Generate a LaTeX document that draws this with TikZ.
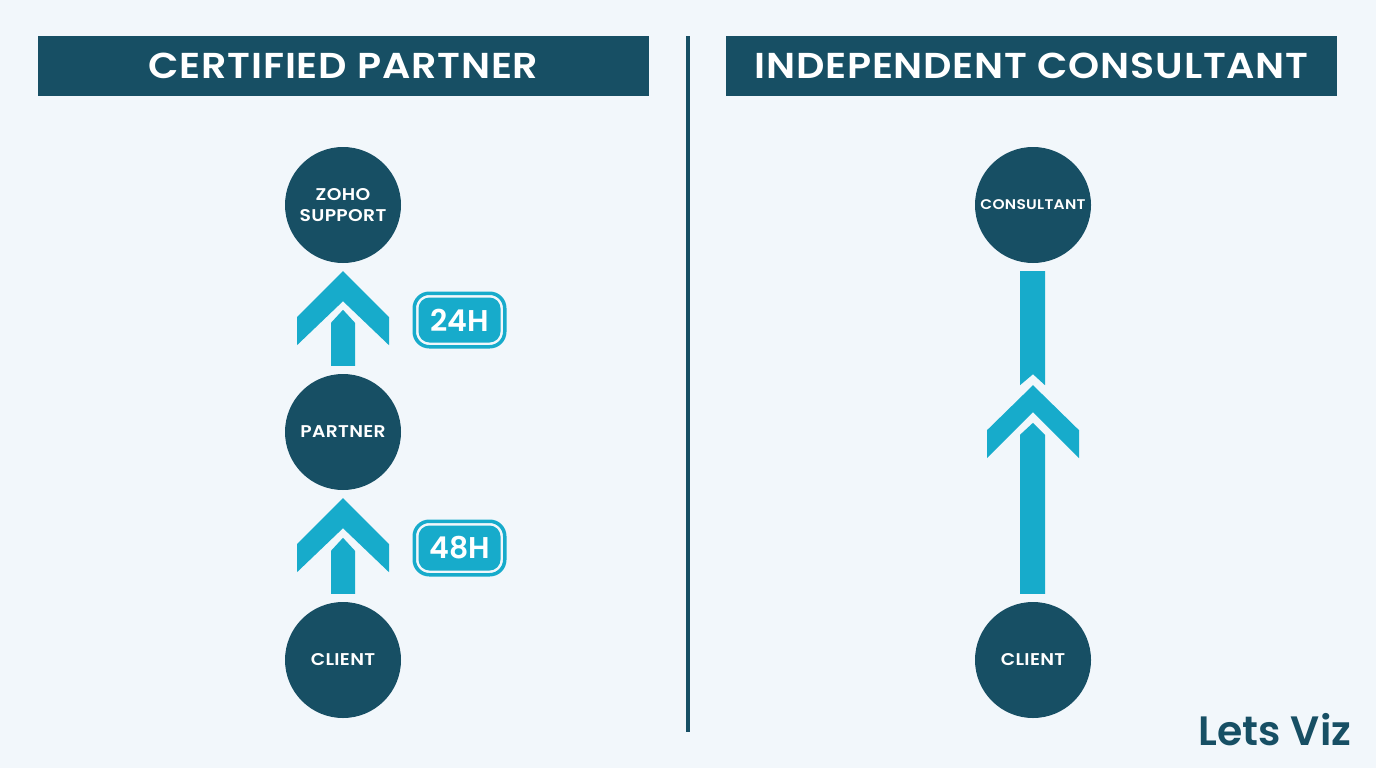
\documentclass[tikz,border=0pt]{standalone}
\usepackage{fontspec}
\setmainfont{Poppins}[BoldFont=Poppins SemiBold]
\newfontfamily\widefont[FakeStretch=1.1, LetterSpace=2.2, BoldFont=Poppins SemiBold]{Poppins}
\newfontfamily\labelfont[FakeStretch=1.1, LetterSpace=2, BoldFont=Poppins SemiBold]{Poppins}
\definecolor{darkteal}{HTML}{174F64}
\definecolor{brightcyan}{HTML}{17ABCB}
\definecolor{paleback}{HTML}{F2F7FB}
\begin{document}
\begin{tikzpicture}[x=1pt, y=-1pt, font=\bfseries,
     text=white,
     banner/.style={fill=darkteal, minimum width=611pt, minimum height=60pt, inner sep=0pt, font=\widefont\fontsize{36}{36}\bfseries},
     circ/.style={circle, fill=darkteal, minimum size=116pt, inner sep=0pt, align=center, font=\labelfont\fontsize{17}{21}\bfseries},
     ring/.style={draw=brightcyan, line width=3.5pt, fill=paleback, rounded corners=15pt, minimum width=90.5pt, minimum height=53.5pt},
     badge/.style={fill=brightcyan, rounded corners=11pt, minimum width=82pt, minimum height=45pt, inner sep=0pt, font=\fontsize{30}{30}\bfseries}]
\fill[paleback] (0,0) rectangle (1376,768);
\node[banner] (certified) at (343.5,66) {CERTIFIED PARTNER};
\node[banner] (independent) at (1031.5,66) {INDEPENDENT CONSULTANT};
\fill[darkteal] (686,36) rectangle (690,732);
\node[circ] (zoho) at (343,205) {ZOHO\\SUPPORT};
\node[circ] (partner) at (343,432) {PARTNER};
\node[circ] (client) at (343,660) {CLIENT};
\node[circ, font=\labelfont\fontsize{14}{16}\bfseries] (consultant) at (1033,205) {CONSULTANT};
\node[circ] (directclient) at (1033,660) {CLIENT};
% stepped arrows on the left
\foreach \from/\to in {client/partner, partner/zoho}{
    \fill[brightcyan] (\to.south) ++(0,8) -- ++(46,46) -- ++(0,28) -- ++(-46,-44) -- ++(-46,44) -- ++(0,-28) -- cycle;
    \fill[brightcyan] (\from.north) ++(-12,-8) -- ++(0,-43) -- ++(12,-13) -- ++(12,13) -- ++(0,43) -- cycle;
}
% long arrow on the right
\fill[brightcyan] (consultant.south) ++(-13,8) -- ++(25,0) -- ++(0,114) -- ++(-12,-11) -- ++(-13,11) -- cycle;
\fill[brightcyan] (consultant.south) ++(0,122) -- ++(46,45) -- ++(0,28) -- ++(-46,-46) -- ++(-46,46) -- ++(0,-28) -- cycle;
\fill[brightcyan] (directclient.north) ++(-13,-8) -- ++(0,-159) -- ++(13,-12) -- ++(12,12) -- ++(0,159) -- cycle;
% time badges
\foreach \name/\ypos/\hours in {day/320/24H, twoday/548/48H}{
    \node[ring] (\name ring) at (459.5,\ypos) {};
    \node[badge] (\name) at (459.5,\ypos) {\hours};
}
\node[text=darkteal, font=\fontsize{41}{41}\selectfont\bfseries, inner sep=0pt] (logo) at (1275,730) {Lets Viz};
\end{tikzpicture}
\end{document}
